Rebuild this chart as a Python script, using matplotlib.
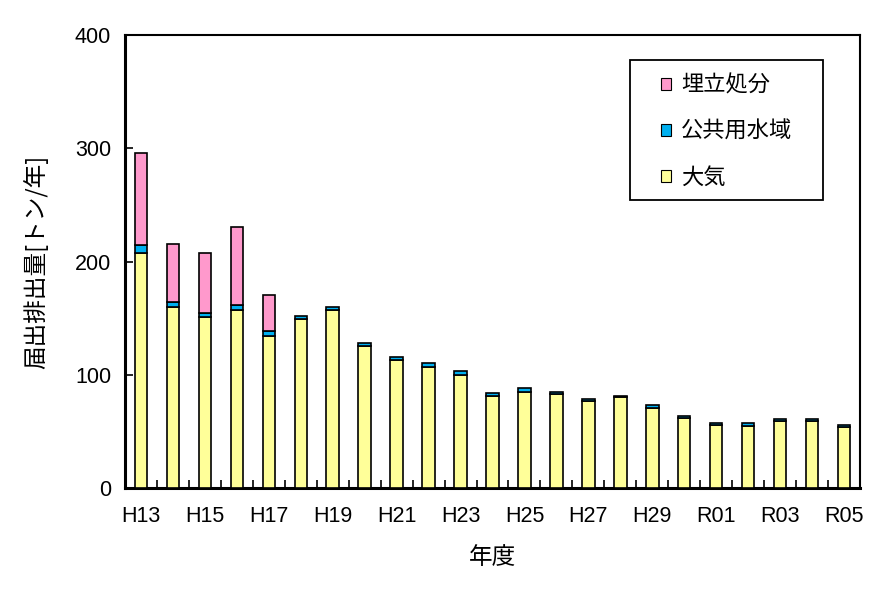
import matplotlib
matplotlib.use("Agg")
import matplotlib.pyplot as plt
from matplotlib.patches import Patch, Rectangle
import numpy as np

plt.rcParams['font.family'] = ['Noto Sans CJK JP', 'DejaVu Sans']

years = ["H13", "H14", "H15", "H16", "H17", "H18", "H19", "H20", "H21", "H22",
         "H23", "H24", "H25", "H26", "H27", "H28", "H29", "H30", "R01", "R02",
         "R03", "R04", "R05"]
air = [207.2, 159.6, 150.7, 157.0, 134.0, 149.0, 157.0, 125.1, 112.8, 106.6,
       99.5, 81.0, 84.5, 82.7, 76.6, 80.0, 70.4, 61.5, 55.4, 54.5,
       58.9, 58.9, 53.6]
water = [7.0, 4.5, 3.8, 4.7, 4.4, 2.6, 2.7, 3.0, 2.6, 3.5,
         3.5, 2.6, 3.5, 1.8, 1.7, 0.9, 2.6, 1.8, 1.7, 2.6,
         1.8, 1.8, 1.8]
landfill = [81.3, 51.0, 52.7, 68.6, 31.8, 0, 0, 0, 0, 0,
            0, 0, 0, 0, 0, 0, 0, 0, 0, 0,
            0, 0, 0]
yticks = [0, 100, 200, 300, 400]

c_air = "#FFFF99"
c_water = "#00B0F0"
c_land = "#FF99CC"

W, H = 877, 607
fig = plt.figure(figsize=(W / 100, H / 100), dpi=100)
ax = fig.add_axes([125 / W, 1 - 488 / H, 735 / W, 453 / H])

x = np.arange(len(years))
w = 0.39
air_a = np.array(air)
water_a = np.array(water)
land_a = np.array(landfill)
ax.bar(x, air_a, w, color=c_air, edgecolor="black", linewidth=1.2, zorder=3)
ax.bar(x, water_a, w, bottom=air_a, color=c_water, edgecolor="black", linewidth=1.2, zorder=3)
mask = land_a > 0
ax.bar(x[mask], land_a[mask], w, bottom=(air_a + water_a)[mask], color=c_land,
       edgecolor="black", linewidth=1.2, zorder=3)

ax.set_xlim(-0.5, len(years) - 0.5)
ax.set_ylim(0, 400)
ax.set_yticks(yticks)
ax.set_xticks(x[::2])
ax.set_xticklabels(years[::2])
ax.set_xticks(np.arange(len(years) + 1) - 0.5, minor=True)
ax.tick_params(axis='x', which='major', length=0, pad=13)
ax.tick_params(axis='x', which='minor', direction='in', length=6, width=1.2)
ax.tick_params(axis='y', direction='in', length=6, width=1.2, pad=10)
for lab in ax.get_xticklabels() + ax.get_yticklabels():
    lab.set_fontfamily(['Liberation Sans', 'DejaVu Sans'])
    lab.set_fontsize(15.5)

for s in ["left", "bottom"]:
    ax.spines[s].set_linewidth(2.2)
for s in ["top", "right"]:
    ax.spines[s].set_linewidth(1.5)

ax.set_ylabel("届出排出量[トン/年]", fontsize=17, labelpad=19)
ax.set_xlabel("年度", fontsize=17, labelpad=14)

# legend frame box
fig.patches.append(Rectangle((630 / W, 1 - 200 / H), 193 / W, 140 / H,
                             transform=fig.transFigure, facecolor="white",
                             edgecolor="black", linewidth=1.3, zorder=4))
handles = [Patch(facecolor=c_land, edgecolor="black", linewidth=0.8),
           Patch(facecolor=c_water, edgecolor="black", linewidth=0.8),
           Patch(facecolor=c_air, edgecolor="black", linewidth=0.8)]
labels = ["埋立処分", "公共用水域", "大気"]
leg = fig.legend(handles, labels, loc="center",
                 bbox_to_anchor=((630 + 193 / 2) / W, 1 - 131.5 / H),
                 fontsize=16, frameon=False,
                 handlelength=0.45, handleheight=0.45, handletextpad=0.45,
                 labelspacing=1.05, borderpad=0)
leg.set_zorder(5)

fig.savefig("out.png", dpi=100)
